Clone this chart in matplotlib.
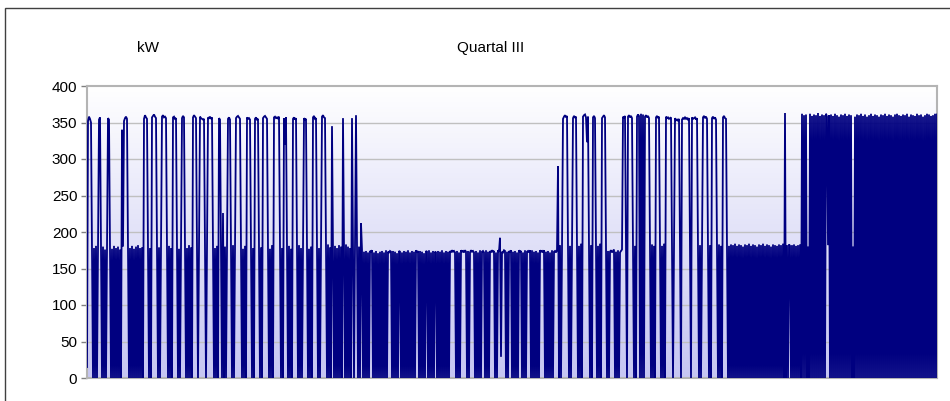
import numpy as np
import matplotlib.pyplot as plt
from matplotlib.colors import LinearSegmentedColormap
from matplotlib.patches import Rectangle

kw_juli = [
    15, 352, 358, 355, 350, 180, 0, 178, 0, 181, 0, 177,
    354, 357, 178, 0, 180, 0, 176, 0, 179,
    356, 354, 180, 0, 177, 0, 181, 0, 178, 0, 180, 0, 176, 0,
    340, 180, 352, 356, 358, 355, 180,
    0, 178, 0, 181, 0, 177, 0, 180, 0, 182, 0, 178, 0, 179, 0,
    355, 360, 357, 355, 181, 0, 178, 0,
    357, 359, 361, 358, 356, 180, 0, 179, 0, 182,
    358, 360, 357, 358, 356, 179, 0, 181, 0, 178, 0,
    357, 358, 355, 356, 180, 0, 177, 0, 181,
    356, 359, 357, 180, 0, 178, 0, 182, 0, 179, 0,
    357, 360, 358, 356, 181, 0, 178,
    358, 356, 355, 354, 355, 180, 0, 177,
    357, 356, 358, 355, 357, 180, 0, 178, 0, 181, 0,
    356, 354, 179, 0, 226, 0, 180, 0, 177,
    355, 357, 354, 179, 0, 182, 0, 178,
    356, 358, 359, 357, 355, 180, 0, 177, 0, 181, 0,
    357, 355, 356, 354, 179, 0, 178, 0,
    355, 357, 354, 355, 180, 0, 179, 0,
    356, 358, 359, 357, 355, 181, 0, 177, 0, 182, 0,
    357, 358, 356, 357, 355, 358, 180, 0, 178, 0,
    356, 320, 357, 180, 0, 181, 0, 177, 0,
    355, 357, 354, 356, 179, 0, 182, 0, 178, 0, 180,
    356, 354, 355, 181, 0, 177, 0, 180, 0,
    357, 359, 355, 356, 182, 0, 178, 0, 181,
    358, 360, 357, 356, 180, 0, 183, 0, 179, 0,
    345, 180, 0, 181, 0, 178, 0, 182, 0, 180, 0,
    356, 179, 0, 183, 0, 180, 0, 178, 0,
    356, 181, 0, 184, 360, 182, 0, 180, 0,
    212, 176,
    0, 173, 0, 174, 0, 172, 0,
    174, 173, 175,
]

kw_august = [
    0, 172, 0, 174, 0, 171, 0, 173, 0, 174, 0, 172, 0, 175, 0,
    173, 172, 174, 173,
    0, 174, 0, 173, 0, 171, 0,
    174, 173,
    0, 172, 0, 174, 0, 173, 0, 175, 0, 172, 0, 174, 0, 173, 0,
    175, 172, 174,
    0, 174, 0, 173, 0, 171, 0,
    174, 173,
    0, 175, 0, 172, 0, 174, 0,
    173, 172,
    0, 174, 0, 173, 0, 175, 0, 172, 0, 174, 0, 173, 0,
    174, 172, 175, 173, 174, 172,
    0, 174, 0, 172, 0,
    175, 173, 174, 172, 175, 173,
    0, 174, 0,
    172, 175, 173, 174, 172,
    0, 174, 0, 172, 0, 175, 0,
    173, 174, 172,
    0, 175, 0, 173, 0,
    174, 172, 175, 173, 174,
    0, 172, 0,
    175, 173,
    192, 29,
    173, 172, 175, 174,
    0, 173, 0,
    174, 172, 175,
    0, 173, 0, 174, 0, 172, 0,
    175, 173, 174,
    0, 172, 0, 175, 0,
    173, 174, 172, 175,
    0, 175, 0, 173, 0, 174, 0, 172, 0,
    175, 173, 174, 172, 175,
    0, 173, 0, 174, 0, 172, 0, 175, 0,
    173, 174, 172, 175,
    290, 0, 182, 0, 183,
    355, 358, 360, 357, 359, 182, 0, 181, 0, 184,
    356, 359, 357, 358, 183, 0, 181, 0, 184, 0,
    358, 360, 361, 357, 323, 358, 183, 0, 182, 0,
    357, 359, 356, 183, 0, 181, 0, 184, 0,
    356, 358, 360, 357, 175, 0, 174, 0, 173,
    175, 172, 174, 176,
    0, 173, 0, 175, 0, 172, 174, 176,
    358, 356, 359, 182, 0,
    358, 360, 357, 359, 356, 183, 0, 181, 0,
    358, 361, 359, 0, 362, 0, 361, 0, 358, 360, 357, 359, 356, 182,
    0, 183, 0, 181, 0,
    357, 359, 356,
]

kw_september = [
    358, 183, 0, 181, 0, 184, 0,
    358, 356, 357, 355, 356, 357, 182, 0, 183,
    356, 353, 354, 352, 355, 183, 0,
    354, 356, 355, 357, 355, 356, 354, 356, 182, 0,
    357, 355, 356, 357, 354, 356, 183, 0, 182, 0, 184,
    357, 359, 356, 358, 355, 183, 0, 182, 0,
    356, 358, 355, 357, 354, 182, 0, 183, 0, 181, 0,
    357, 359, 356, 355, 182,
    0, 181, 0, 183, 0, 182, 0, 184, 0, 181,
    0, 183, 0, 182, 0, 180, 0, 183, 0, 182,
    0, 184, 0, 181, 0, 183, 0, 182, 0, 180,
    0, 183, 0, 182, 0, 184, 0, 181, 0, 183,
    0, 182, 0, 180, 0, 183, 0, 182, 0, 181,
    0, 183, 0, 182, 0, 184, 0, 363, 0, 182,
    0, 183, 181, 0, 182, 0, 183, 0, 181, 0,
    182, 0, 183, 0,
    362, 0, 360, 0, 361, 0, 180, 0, 362, 0,
    359, 0, 361, 0, 360, 0, 363, 0, 359, 0,
    361, 0, 360, 0, 362, 358, 182, 360, 0, 361,
    0, 359, 0, 362, 0, 360, 0, 358, 0, 361,
    0, 360, 0, 362, 0, 359, 0, 361, 0, 360,
    0, 180, 0, 358, 0, 361, 0, 360, 0, 362,
    0, 359, 0, 361, 0, 358, 0, 360, 0, 362,
    0, 359, 0, 361, 0, 360, 0, 358, 0, 361,
    0, 360, 0, 362, 0, 359, 0, 361, 0, 360,
    0, 358, 0, 361, 0, 362, 0, 360, 0, 359,
    0, 361, 0, 360, 0, 362, 0, 358, 0, 361,
    0, 360, 0, 359, 0, 362, 0, 360, 0, 361,
    0, 358, 0, 360, 0, 362, 0, 361, 0, 359,
    0, 360, 0, 362, 0, 361,
]

y_ticks = [0, 50, 100, 150, 200, 250, 300, 350, 400]
title_text = "Quartal III"
unit_text = "kW"

plt.rcParams['font.family'] = ['Liberation Sans', 'DejaVu Sans']

kw = np.array(kw_juli + kw_august + kw_september, dtype=float)
x = np.arange(len(kw))

W, H = 950, 401
fig = plt.figure(figsize=(W / 100, H / 100), dpi=100)
ax = fig.add_axes([87 / W, (H - 378) / H, (937 - 87) / W, (378 - 86) / H])

# Hintergrund: Verlauf weiss -> lavendel
grad = LinearSegmentedColormap.from_list("bg", ["#c6c6f2", "#ffffff"])
ax.imshow(np.linspace(0, 1, 256).reshape(-1, 1), cmap=grad, origin="lower",
          aspect="auto", extent=[0, len(kw) - 1, 0, 400], zorder=0)

for t in y_ticks[1:-1]:
    ax.axhline(t, color="#c0c0c0", lw=1.0, zorder=1)

ax.plot(x, kw, color="#000080", lw=1.3, zorder=3, solid_joinstyle="miter")

ax.set_xlim(0, len(kw) - 1)
ax.set_ylim(0, 400)
ax.set_yticks(y_ticks)
ax.set_xticks([])
ax.tick_params(axis="y", length=4, width=1, color="#808080", labelsize=11, pad=3)
for s in ax.spines.values():
    s.set_color("#b4b4b4")
    s.set_linewidth(1.5)

fig.text(148 / W, 1 - 48 / H, unit_text, ha="center", va="center", fontsize=11)
fig.text(491 / W, 1 - 48 / H, title_text, ha="center", va="center", fontsize=11)

# Rahmen um das Diagramm (rechts und unten abgeschnitten)
fig.patches.append(Rectangle((4.5 / W, -0.05), 1.0, 1 - 7.5 / H + 0.05,
                             transform=fig.transFigure, fill=False,
                             edgecolor="#404040", lw=1.0))

fig.savefig("out.png", dpi=100)
